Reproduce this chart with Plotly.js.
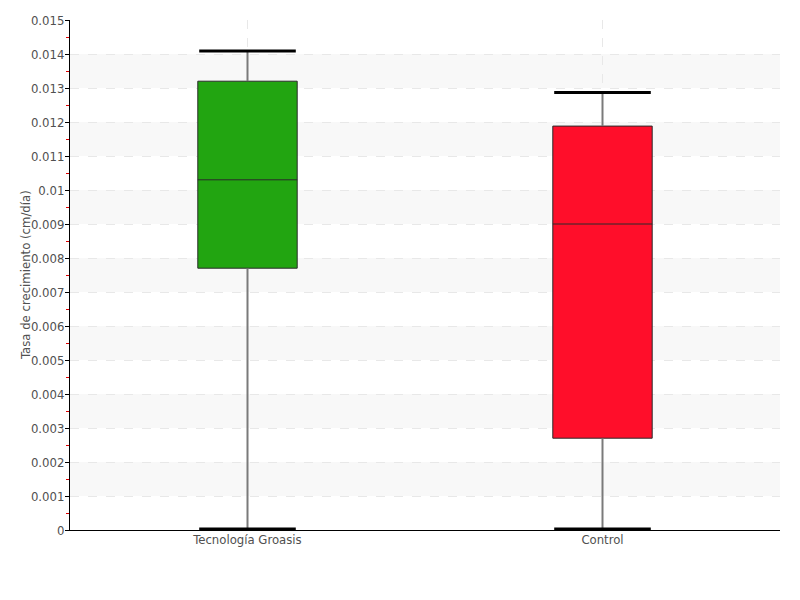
<!DOCTYPE html>
<html>
<head>
<meta charset="utf-8">
<script src="https://cdn.plot.ly/plotly-3.0.1.min.js"></script>
<style>html,body{margin:0;padding:0;background:#fff;}</style>
</head>
<body>
<div id="chart" style="width:800px;height:600px;"></div>
<script>
// ---- data ----
const categories = ["Tecnología Groasis", "Control"];
const lowerFence = [0.00003, 0.00003];
const q1 = [0.0077, 0.0027];
const median = [0.0103, 0.0090];
const q3 = [0.0132, 0.01188];
const upperFence = [0.01409, 0.01287];
const boxColors = ["#22a511", "#ff0e2a"];
const yTitle = "Tasa de crecimiento (cm/día)";
const bandStarts = [0.001, 0.003, 0.005, 0.007, 0.009, 0.011, 0.013];
const bandSize = 0.001;

const FONT = "'DejaVu Sans Condensed', 'Liberation Sans Narrow', sans-serif";
const traces = [];

categories.forEach((c, i) => {
  traces.push({
    type: "box",
    x: [c],
    q1: [q1[i]], median: [median[i]], q3: [q3[i]],
    lowerfence: [lowerFence[i]], upperfence: [upperFence[i]],
    fillcolor: boxColors[i],
    line: {color: "#2a2a2a", width: 1},
    whiskerwidth: 0,
    width: 0.28,
    showlegend: false,
    hoverinfo: "skip"
  });
});

// whisker stems (gray) and caps (black)
categories.forEach((c, i) => {
  traces.push({
    type: "scatter", mode: "lines",
    x: [c, c, null, c, c],
    y: [lowerFence[i], q1[i], null, q3[i], upperFence[i]],
    line: {color: "#7a7a7a", width: 2},
    showlegend: false, hoverinfo: "skip"
  });
  traces.push({
    type: "scatter", mode: "markers",
    x: [c, c],
    y: [lowerFence[i], upperFence[i]],
    marker: {symbol: "line-ew", size: 69, line: {color: "#000000", width: 3}},
    showlegend: false, hoverinfo: "skip"
  });
});

const shapes = bandStarts.map(b => ({
  type: "rect", xref: "paper", yref: "y",
  x0: 0, x1: 1, y0: b, y1: b + bandSize,
  fillcolor: "#f8f8f8", line: {width: 0}, layer: "below"
}));

const layout = {
  width: 800, height: 600,
  margin: {l: 70, r: 20, t: 20, b: 70},
  paper_bgcolor: "#ffffff",
  plot_bgcolor: "#ffffff",
  font: {family: FONT, size: 13, color: "#505050"},
  showlegend: false,
  boxmode: "overlay",
  xaxis: {
    type: "category",
    range: [-0.5, 1.5],
    showline: true, linecolor: "#000000", linewidth: 1,
    showgrid: true, gridcolor: "#e8e8e8", griddash: "dash", gridwidth: 1,
    ticks: "", ticklabelstandoff: -3,
    tickfont: {family: FONT, size: 13, color: "#505050"},
    zeroline: false, fixedrange: true
  },
  yaxis: {
    range: [0, 0.015],
    dtick: 0.001, tick0: 0,
    tickformat: "~g",
    showline: true, linecolor: "#000000", linewidth: 1,
    ticks: "outside", ticklen: 4, tickcolor: "#000000", tickwidth: 1,
    ticklabelstandoff: -2,
    showgrid: true, gridcolor: "#e8e8e8", griddash: "dash", gridwidth: 1,
    minor: {dtick: 0.0005, tick0: 0, ticks: "outside", ticklen: 3, tickcolor: "#dd0000", showgrid: false},
    zeroline: false,
    tickfont: {family: FONT, size: 13, color: "#505050"},
    fixedrange: true
  },
  annotations: [{
    text: yTitle, xref: "paper", yref: "paper",
    x: -0.0634, y: 0.5, xanchor: "center", yanchor: "middle",
    textangle: -90, showarrow: false,
    font: {family: FONT, size: 13, color: "#505050"}
  }],
  shapes: shapes
};

Plotly.newPlot("chart", traces, layout, {displayModeBar: false, staticPlot: true});
</script>
</body>
</html>
